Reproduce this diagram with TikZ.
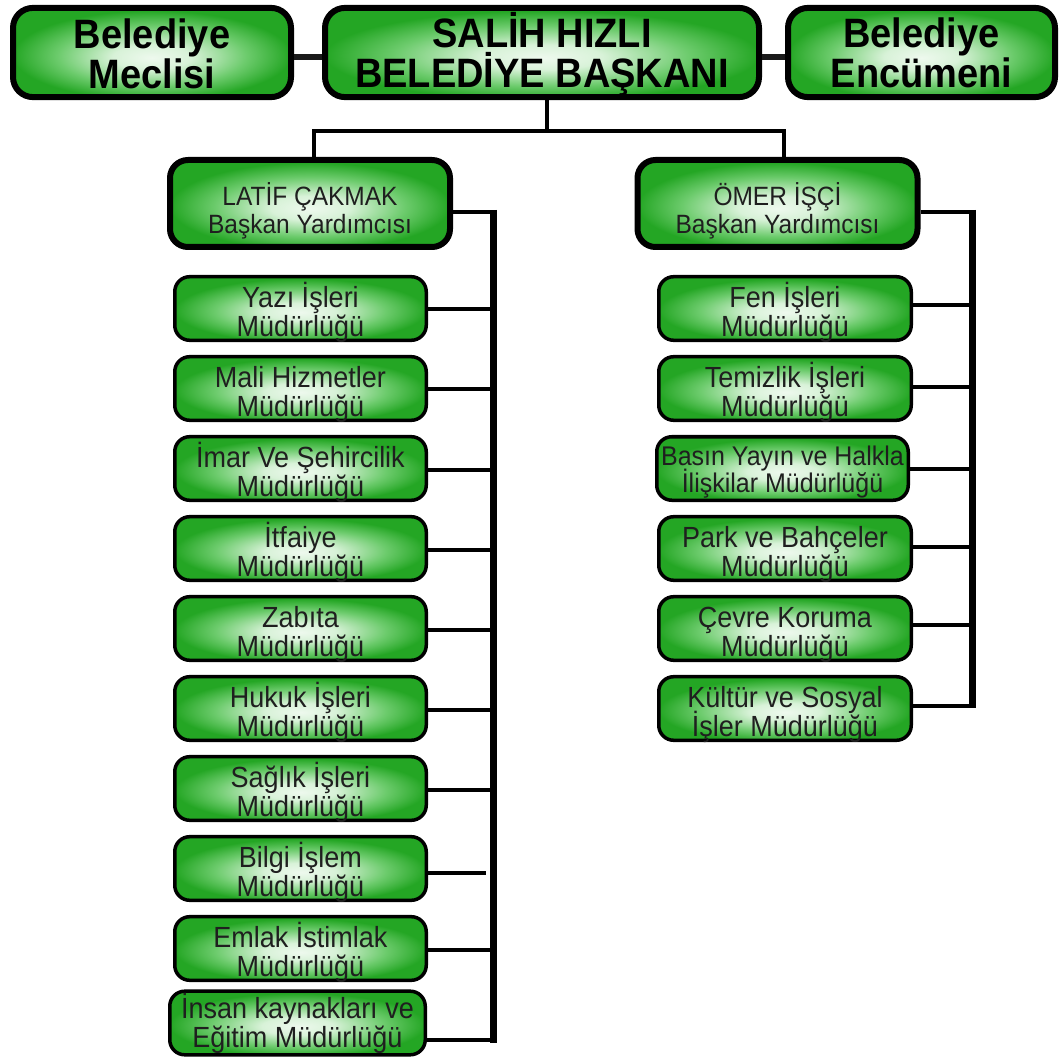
\documentclass[tikz,border=0pt]{standalone}
\usepackage{fontspec}
\setmainfont{Liberation Sans}
\definecolor{gLight}{HTML}{EEF9EE}
\definecolor{gLight2}{HTML}{D8F2D8}
\definecolor{gMid}{HTML}{6CCB6C}
\definecolor{gEdge}{HTML}{24A624}
\definecolor{lnk}{HTML}{1A1A1A}
\pgfdeclareradialshading{boxglow}{\pgfpoint{0bp}{-3bp}}{color(0bp)=(gLight); color(7bp)=(gLight2); color(17bp)=(gMid); color(25bp)=(gEdge); color(50bp)=(gEdge)}
\newcommand\lnstrut{\rule[-0.25em]{0pt}{1.2em}}
\newcommand\twolines[3]{\raisebox{-#1}[\height][\depth]{\scalebox{1}[1.08]{\vbox{\lineskiplimit=-\maxdimen\halign{\hfil##\hfil\cr\lnstrut#2\cr\lnstrut#3\cr}}}}}
\tikzset{
  box/.style={draw=black, shade, shading=boxglow, inner sep=0pt, text=black!88},
  topbox/.style={box, line width=6pt, rounded corners=20pt, minimum height=89pt, text=black, font=\fontsize{38}{37}\selectfont\bfseries},
  vpbox/.style={box, line width=6pt, rounded corners=18pt, minimum width=280pt, minimum height=87pt, font=\fontsize{24.5}{25.5}\selectfont},
  subbox/.style={box, line width=3.5pt, rounded corners=15pt, minimum width=251.5pt, minimum height=63.5pt, font=\fontsize{27}{26.5}\selectfont},
  toplink/.style={draw=lnk, line width=6pt},
  trunk/.style={draw=black, line width=4pt},
  link/.style={draw=black, line width=4pt},
  bus/.style={draw=black, line width=7pt},
}
\begin{document}
\begin{tikzpicture}[x=1pt, y=-1pt]
\useasboundingbox (0,0) rectangle (1061,1059);
% top row
\node[topbox, minimum width=278pt] (meclis) at (152,52.5) {\twolines{2pt}{Belediye}{Meclisi}};
\node[topbox, minimum width=434pt] (baskan) at (542,52.5) {\twolines{1pt}{SALİH HIZLI}{BELEDİYE BAŞKANI}};
\node[topbox, minimum width=267pt] (encumen) at (921.5,52.5) {\twolines{1pt}{Belediye}{Encümeni}};
\draw[toplink] ([yshift=-5pt]meclis.east) -- ([yshift=-5pt]baskan.west);
\draw[toplink] ([yshift=-5pt]baskan.east) -- ([yshift=-5pt]encumen.west);
% vice presidents
\node[vpbox] (latif) at (310,203.5) {\twolines{7pt}{LATİF ÇAKMAK}{Başkan Yardımcısı}};
\node[vpbox] (omer) at (777.5,203.5) {\twolines{7pt}{ÖMER İŞÇİ}{Başkan Yardımcısı}};
\coordinate (tj) at (547,131);
\draw[trunk] ([xshift=5pt]baskan.south) -- (tj);
\draw[trunk] ([xshift=4pt]latif.north) |- (tj) -| ([xshift=6pt]omer.north);
% buses
\coordinate (lbtop) at (493.5,212);
\coordinate (lbbot) at (493.5,1043);
\coordinate (rbtop) at (972,212);
\coordinate (rbbot) at (972,708);
\draw[link] ([yshift=-8.5pt]latif.east) -- (lbtop);
\draw[link] ([yshift=-8.5pt]omer.east) -- (rbtop);
\draw[bus] ([yshift=2pt]lbtop) -- (lbbot);
\draw[bus] ([yshift=2pt]rbtop) -- (rbbot);
% left column
\node[subbox] (yazi) at (300.5,308.5) {\twolines{3pt}{Yazı İşleri}{Müdürlüğü}};
\node[subbox] (mali) at (300.5,388.5) {\twolines{3pt}{Mali Hizmetler}{Müdürlüğü}};
\node[subbox] (imar) at (300.5,468.5) {\twolines{3pt}{İmar Ve Şehircilik}{Müdürlüğü}};
\node[subbox] (itfaiye) at (300.5,548.5) {\twolines{3pt}{İtfaiye}{Müdürlüğü}};
\node[subbox] (zabita) at (300.5,628.5) {\twolines{3pt}{Zabıta}{Müdürlüğü}};
\node[subbox] (hukuk) at (300.5,708.5) {\twolines{3pt}{Hukuk İşleri}{Müdürlüğü}};
\node[subbox] (saglik) at (300.5,788.5) {\twolines{3pt}{Sağlık İşleri}{Müdürlüğü}};
\node[subbox] (bilgi) at (300.5,868.5) {\twolines{3pt}{Bilgi İşlem}{Müdürlüğü}};
\node[subbox] (emlak) at (300.5,948.5) {\twolines{3pt}{Emlak İstimlak}{Müdürlüğü}};
\node[subbox, minimum width=255.5pt, minimum height=56.5pt] (insan) at (297.5,1023) {\twolines{0pt}{İnsan kaynakları ve}{Eğitim Müdürlüğü}};
\foreach \n in {yazi,mali,imar,itfaiye,zabita,hukuk,saglik,emlak}
  \draw[link] ([yshift=-1pt]\n.east) -- ([yshift=-1pt]\n.east -| lbtop);
\draw[link] ([yshift=-4.5pt]bilgi.east) -- ([yshift=-4.5pt,xshift=-8pt]bilgi.east -| lbtop);
\draw[link] ([yshift=-17pt]insan.east) -- ([yshift=-17pt]insan.east -| lbtop);
% right column
\node[subbox, minimum width=252.5pt] (fen) at (785,308.5) {\twolines{3pt}{Fen İşleri}{Müdürlüğü}};
\node[subbox, minimum width=252.5pt] (temizlik) at (785,388.5) {\twolines{3pt}{Temizlik İşleri}{Müdürlüğü}};
\node[subbox, minimum width=251.5pt, font=\fontsize{25}{25.5}\selectfont] (basin) at (782.5,468.5) {\twolines{1pt}{Basın Yayın ve Halkla}{İlişkilar Müdürlüğü}};
\node[subbox, minimum width=252.5pt] (park) at (785,548.5) {\twolines{3pt}{Park ve Bahçeler}{Müdürlüğü}};
\node[subbox, minimum width=252.5pt] (cevre) at (785,628.5) {\twolines{3pt}{Çevre Koruma}{Müdürlüğü}};
\node[subbox, minimum width=252.5pt] (kultur) at (785,708.5) {\twolines{3pt}{Kültür ve Sosyal}{İşler Müdürlüğü}};
\draw[link] ([yshift=3.5pt]fen.east) -- ([yshift=3.5pt]fen.east -| rbtop);
\draw[link] ([yshift=1.5pt]temizlik.east) -- ([yshift=1.5pt]temizlik.east -| rbtop);
\draw[link] (basin.east) -- (basin.east -| rbtop);
\draw[link] ([yshift=1.5pt]park.east) -- ([yshift=1.5pt]park.east -| rbtop);
\draw[link] ([yshift=3.5pt]cevre.east) -- ([yshift=3.5pt]cevre.east -| rbtop);
\draw[link] ([yshift=2.5pt]kultur.east) -- ([yshift=2.5pt]kultur.east -| rbtop);
\end{tikzpicture}
\end{document}
